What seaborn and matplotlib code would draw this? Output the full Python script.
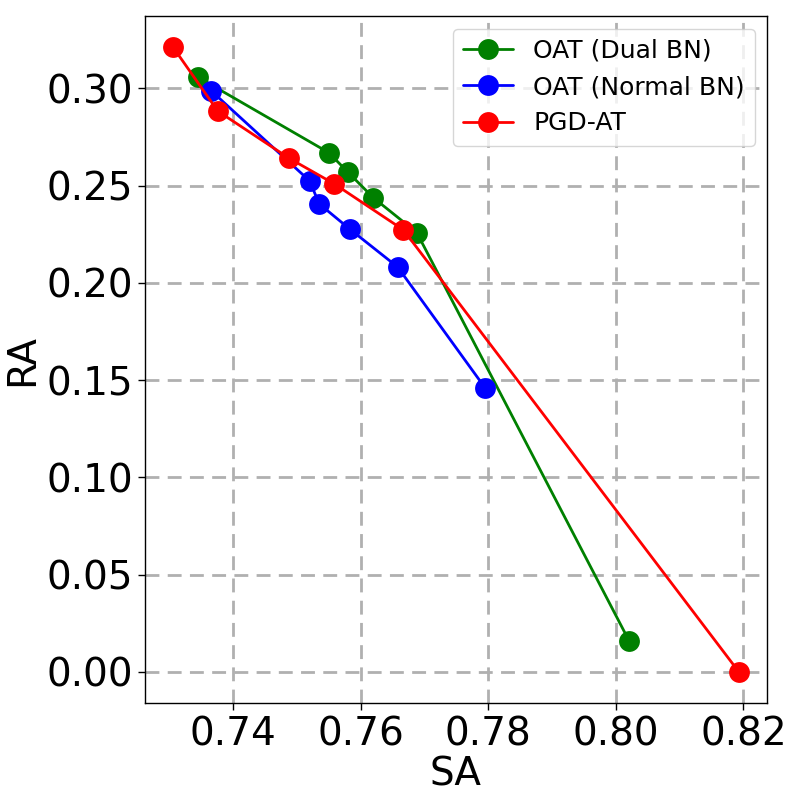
import matplotlib
matplotlib.use("Agg")
import matplotlib.pyplot as plt
import seaborn as sns
import pandas as pd

# Data
dual_sa = [0.7345, 0.7550, 0.7580, 0.7620, 0.7688, 0.8021]
dual_ra = [0.3058, 0.2670, 0.2570, 0.2438, 0.2259, 0.0159]
normal_sa = [0.7366, 0.7520, 0.7535, 0.7583, 0.7658, 0.7795]
normal_ra = [0.2987, 0.2525, 0.2407, 0.2277, 0.2082, 0.1461]
pgd_sa = [0.7306, 0.7376, 0.7488, 0.7559, 0.7667, 0.8193]
pgd_ra = [0.3212, 0.2884, 0.2641, 0.2509, 0.2273, 0.0000]
series_names = ["OAT (Dual BN)", "OAT (Normal BN)", "PGD-AT"]
series_colors = ["green", "blue", "red"]

sns.set_style("white")
plt.rcParams['font.family'] = ['DejaVu Sans']
plt.rcParams['text.color'] = 'black'
plt.rcParams['axes.labelcolor'] = 'black'
plt.rcParams['xtick.color'] = 'black'
plt.rcParams['ytick.color'] = 'black'

fig = plt.figure(figsize=(8, 8), dpi=100)
ax = fig.add_axes([0.181, 0.121, 0.778, 0.859])

for name, sa, ra, col in zip(series_names,
                             [dual_sa, normal_sa, pgd_sa],
                             [dual_ra, normal_ra, pgd_ra],
                             series_colors):
    df = pd.DataFrame({"SA": sa, "RA": ra})
    sns.lineplot(data=df, x="SA", y="RA", sort=False, ax=ax, color=col,
                 marker="o", markersize=15, markeredgewidth=0, linewidth=2,
                 label=name)

ax.grid(True, linestyle=(0, (5, 3)), color="#b0b0b0", linewidth=2)
ax.set_axisbelow(True)
for s in ax.spines.values():
    s.set_color("black")
    s.set_linewidth(1)
ax.tick_params(axis="both", labelsize=28, length=5, width=1, direction="out",
               left=True, bottom=True, color="black", labelcolor="black")
ax.set_xticks([0.74, 0.76, 0.78, 0.80, 0.82])
ax.set_xticklabels(["0.74", "0.76", "0.78", "0.80", "0.82"])
ax.set_yticks([0.00, 0.05, 0.10, 0.15, 0.20, 0.25, 0.30])
ax.set_yticklabels(["0.00", "0.05", "0.10", "0.15", "0.20", "0.25", "0.30"])
ax.set_xlabel("SA", fontsize=28, labelpad=2, color="black")
ax.set_ylabel("RA", fontsize=28, labelpad=4, color="black")
leg = ax.legend(loc="upper right", fontsize=18, frameon=True)
for t in leg.get_texts():
    t.set_color("black")

fig.savefig("out.png", dpi=100)
